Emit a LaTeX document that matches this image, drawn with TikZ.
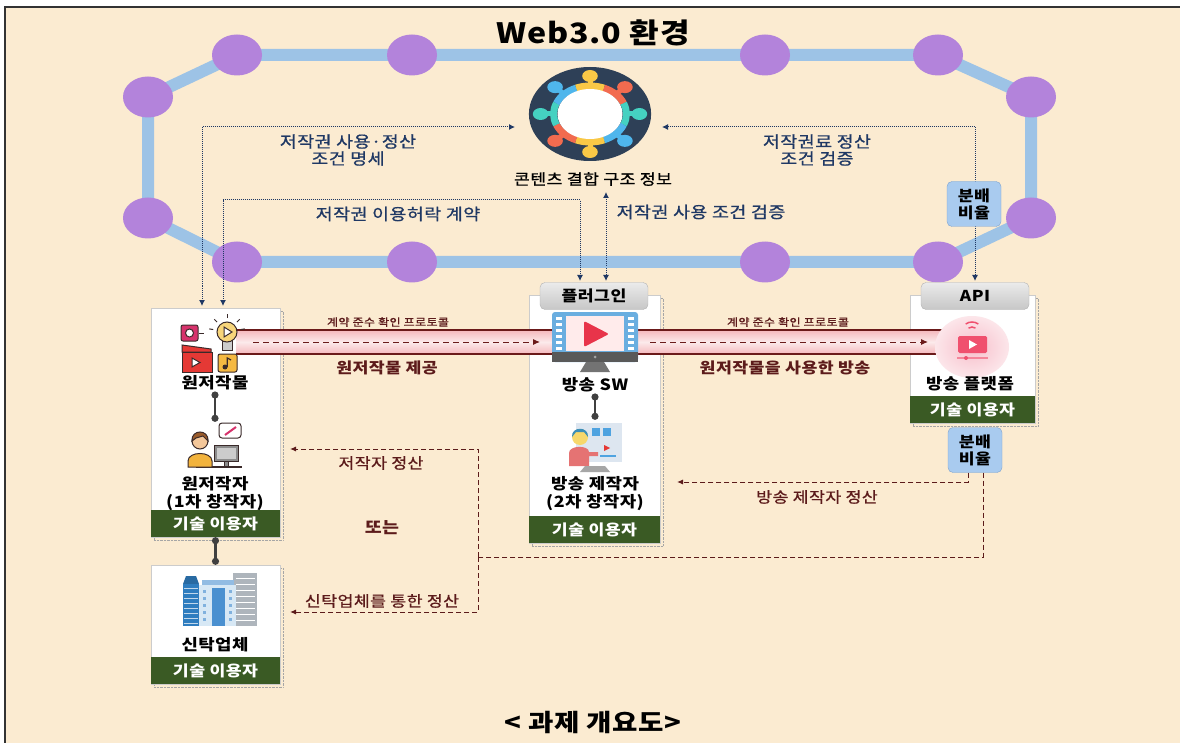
\documentclass[tikz,border=0pt]{standalone}
\usepackage{fontspec}
\setmainfont{Noto Sans CJK KR}[FakeStretch=1.15,LetterSpace=3]
\newfontfamily\labelfont{Noto Sans CJK KR}[FakeStretch=1.15,LetterSpace=3,FakeBold=0.8]
\usetikzlibrary{arrows.meta,shapes.geometric,shadows}

\definecolor{paper}{HTML}{FBEBD1}
\definecolor{ringblue}{HTML}{9DC3E6}
\definecolor{peerpurple}{HTML}{B383DB}
\definecolor{navy}{HTML}{1F3864}
\definecolor{payred}{HTML}{5C1B1B}
\definecolor{usergreen}{HTML}{3A5A24}
\definecolor{hubdark}{HTML}{2E4057}
\definecolor{hubyellow}{HTML}{F9C846}
\definecolor{hubred}{HTML}{F26B4F}
\definecolor{hubteal}{HTML}{45D1C1}
\definecolor{hubblue}{HTML}{4FB6EC}
\definecolor{ratioblue}{HTML}{A9CBEF}
\definecolor{ratioedge}{HTML}{7EA3CF}
\definecolor{bandpink}{HTML}{F5B8BC}
\definecolor{bandline}{HTML}{6B1A1A}
\definecolor{inkdark}{HTML}{3A2A2A}
\definecolor{recpink}{HTML}{D6336C}
\definecolor{bulbyellow}{HTML}{F7D57A}
\definecolor{clapred}{HTML}{E53935}
\definecolor{noteyellow}{HTML}{F5B942}
\definecolor{skin}{HTML}{F4C79A}
\definecolor{hairbrown}{HTML}{9A5B2A}
\definecolor{shirtyellow}{HTML}{F2B33D}
\definecolor{screenblue}{HTML}{6AAEE0}
\definecolor{playred}{HTML}{E8344A}
\definecolor{boardgray}{HTML}{DDE6F0}
\definecolor{cardblue}{HTML}{4FA3E0}
\definecolor{coral}{HTML}{E57373}
\definecolor{hairteal}{HTML}{3D8FB8}
\definecolor{pinkcore}{HTML}{F7BFCB}
\definecolor{pinkedge}{HTML}{FCE6EA}
\definecolor{tvred}{HTML}{F0506E}
\definecolor{towerblue}{HTML}{2F7DBF}
\definecolor{towergray}{HTML}{AEB5BC}
\definecolor{officelight}{HTML}{D7E8F5}
\definecolor{officeblue}{HTML}{4A90D0}

\begin{document}
\begin{tikzpicture}[x=1pt,y=-1pt]
        \tikzstyle{ring}=[draw=ringblue,line width=12pt,line join=round]
        \tikzstyle{peer}=[ellipse,fill=peerpurple,minimum width=50pt,minimum height=41pt,inner sep=0pt]
        \tikzstyle{card}=[draw=black!20,fill=white,inner sep=0pt,drop shadow={shadow xshift=3pt,shadow yshift=-3pt,opacity=1,fill=paper,draw=black!35,densely dotted}]
        \tikzstyle{userbar}=[fill=usergreen,text=white,inner sep=0pt,minimum height=27pt,font=\bfseries\fontsize{15}{18}\selectfont]
        \tikzstyle{tab}=[rounded corners=5pt,draw=black!30,top color=black!8,bottom color=black!22,minimum width=108pt,minimum height=27pt,font=\bfseries\fontsize{15}{18}\selectfont]
        \tikzstyle{ratio}=[rounded corners=5pt,draw=ratioedge,fill=ratioblue,minimum width=54pt,minimum height=45pt,inner sep=0pt,align=center,font=\bfseries\fontsize{15}{17}\selectfont]
        \tikzstyle{boxtitle}=[inner sep=1pt,align=center,font=\bfseries\fontsize{15.5}{18}\selectfont]
        \tikzstyle{icon}=[inner sep=0pt,minimum width=70pt,minimum height=52pt]
        \tikzstyle{ctrltext}=[text=navy,align=center,font=\labelfont\fontsize{16}{17}\selectfont]
        \tikzstyle{prototext}=[text=payred,font=\labelfont\fontsize{10.5}{12}\selectfont]
        \tikzstyle{bandtext}=[text=payred,font=\bfseries\fontsize{15}{18}\selectfont]
        \tikzstyle{paytext}=[text=payred,font=\labelfont\fontsize{15}{18}\selectfont]
        \tikzstyle{ctrl}=[navy,densely dotted,line width=1pt,arrows={Latex[length=6pt,width=6pt]-Latex[length=6pt,width=6pt]}]
        \tikzstyle{flow}=[bandline,dash pattern=on 6pt off 4pt,line width=1pt,-{Latex[length=7pt,width=6pt]}]
        \tikzstyle{pay}=[payred,dash pattern=on 5pt off 3pt,line width=1pt,-{Latex[length=6pt,width=5pt]}]
        \tikzstyle{link}=[black!75,line width=2.2pt,{Circle[length=7pt]}-{Circle[length=7pt]}]

        \useasboundingbox (0,0) rectangle (1180,743);
        \fill[white] (0,0) rectangle (1180,743);
        \draw[fill=paper,draw=black!80,line width=1.5pt] (5,7) rectangle (1190,753);

        % blockchain ring
        \foreach \n/\x/\y in {1/148/97,2/237/55,3/412/55,4/765/55,5/938/55,6/1031/97,7/1031/218,8/938/262,9/765/262,10/412/262,11/237/262,12/148/218}
            \coordinate (c\n) at (\x,\y);
        \draw[ring] (c1) -- (c2) -- (c3) -- (c4) -- (c5) -- (c6) -- (c7) -- (c8) -- (c9) -- (c10) -- (c11) -- (c12) -- cycle;
        \foreach \n in {1,...,12}
            \node[peer] (p\n) at (c\n) {};

        \node[font=\bfseries\fontsize{28}{32}\selectfont] (title) at (593,33) {Web3.0 환경};

        % content structure hub
        \node[ellipse,minimum width=124pt,minimum height=94pt,inner sep=0pt] (hub) at (590,114) {};
        \begin{scope}[shift={(hub.center)},xscale=1.3]
            \fill[hubdark] (0,0) circle (47pt);
            \foreach \a/\c in {90/hubyellow,45/hubred,0/hubteal,-45/hubblue,-90/hubyellow,-135/hubred,180/hubteal,135/hubblue}{
                \draw[\c,line width=7pt] ({\a-22.6}:28pt) arc[start angle={\a-22.6},end angle={\a+22.6},radius=28pt];
                \draw[\c,line width=5pt] (\a:29pt) -- (\a:36pt);
                \fill[\c] (\a:38pt) circle (6pt);
            }
            \fill[white] (0,0) circle (25pt);
        \end{scope}
        \node[font=\labelfont\fontsize{15}{18}\selectfont] (hub-label) at (593,179) {콘텐츠 결합 구조 정보};

        % control flows
        \coordinate (spec-end) at (202,306);
        \coordinate (spec-in) at (515,127);
        \coordinate (lic-end) at (223,306);
        \coordinate (lic-mid) at (400,200);
        \coordinate (plug-l) at (580,281);
        \coordinate (hub-s) at (606,192);
        \coordinate (plug-r) at (606,281);
        \coordinate (hub-e) at (662,127);
        \coordinate (api-top) at (975,281);
        \draw[ctrl] (spec-end) |- (spec-in);
        \draw[ctrl] (lic-end) |- (lic-mid) -| (plug-l);
        \draw[ctrl] (hub-s) -- (plug-r);
        \draw[ctrl] (hub-e) -| (api-top);
        \node[ratio] (ratio-up) at (974,204) {분배\\비율};

        \node[ctrltext] (spec-text) at (348,150) {저작권 사용·정산\\조건 명세};
        \node[ctrltext] (lic-text) at (398,214) {저작권 이용허락 계약};
        \node[ctrltext] (check-text) at (701,212) {저작권 사용 조건 검증};
        \node[ctrltext] (fee-text) at (817,150) {저작권료 정산\\조건 검증};

        % participant cards
        \node[card,minimum width=129pt,minimum height=229pt] (orig-card) at (215.5,422.5) {};
        \node[card,minimum width=129pt,minimum height=119pt] (trust-card) at (215.5,624.5) {};
        \node[card,minimum width=131pt,minimum height=248pt] (sw-card) at (594.5,419) {};
        \node[card,minimum width=125pt,minimum height=128pt] (platform-card) at (972.5,359) {};
        \node[userbar,minimum width=129pt,anchor=south] (orig-bar) at (orig-card.south) {기술 이용자};
        \node[userbar,minimum width=129pt,anchor=south] (trust-bar) at (trust-card.south) {기술 이용자};
        \node[userbar,minimum width=131pt,anchor=south] (sw-bar) at (sw-card.south) {기술 이용자};
        \node[userbar,minimum width=125pt,anchor=south] (platform-bar) at (platform-card.south) {기술 이용자};
        \node[tab] (plug-tab) at (594,296) {플러그인};
        \node[tab] (api-tab) at (975,296) {API};

        % protocol bands
        \fill[top color=bandpink,bottom color=bandpink,middle color=bandpink!30] (236,330) rectangle (562,354);
        \draw[bandline,line width=1.5pt] (236,330) -- (562,330) (236,354) -- (562,354);
        \fill[top color=bandpink,bottom color=bandpink,middle color=bandpink!30] (628,330) rectangle (945,354);
        \draw[bandline,line width=1.5pt] (628,330) -- (945,330) (628,354) -- (945,354);
        \coordinate (give-s) at (253,342);
        \coordinate (give-e) at (540,342);
        \coordinate (cast-s) at (650,342);
        \coordinate (cast-e) at (928,342);
        \draw[flow] (give-s) -- (give-e);
        \draw[flow] (cast-s) -- (cast-e);
        \node[prototext] (proto-a) at (388,322) {계약 준수 확인 프로토콜};
        \node[prototext] (proto-b) at (788,322) {계약 준수 확인 프로토콜};
        \node[bandtext] (give-text) at (387,368) {원저작물 제공};
        \node[bandtext] (cast-text) at (785,368) {원저작물을 사용한 방송};

        % original work icon
        \node[icon] (orig-icon) at (212,344) {};
        \draw[line width=1pt,draw=inkdark,fill=recpink,rounded corners=2pt] (181,325) rectangle (198,341);
        \draw[line width=1pt,draw=inkdark,fill=white] (189.5,333) circle (4pt);
        \draw[line width=1pt,inkdark] (199,333) -- (204,333);
        \foreach \a in {90,45,135,10,170}
            \draw[line width=1pt,inkdark] ([shift={(227,332)}]\a:14pt) -- ([shift={(227,332)}]\a:18pt);
        \draw[line width=1pt,draw=inkdark,fill=black!20] (222,340) rectangle (232,350);
        \draw[line width=1pt,draw=inkdark,fill=bulbyellow] (227,332) circle (10pt);
        \draw[line width=1pt,draw=inkdark,fill=white] (224,327) -- (224,337) -- (232,332) -- cycle;
        \draw[line width=1pt,draw=inkdark,fill=clapred] (182,345) -- (211,349) -- (211,352) -- (182,352) -- cycle;
        \draw[line width=1pt,draw=inkdark,fill=clapred] (182,352) rectangle (212,372);
        \draw[line width=1pt,draw=inkdark,fill=white] (192,358) -- (192,367) -- (200,362.5) -- cycle;
        \draw[line width=1pt,draw=inkdark,fill=noteyellow,rounded corners=2pt] (218,354) rectangle (237,372);
        \fill[inkdark] (225,367) circle (2.5pt);
        \draw[line width=1.2pt,inkdark] (227.3,367) -- (227.3,358) -- (231,360);
        \node[boxtitle] (orig-name) at (215,383) {원저작물};

        % original author icon
        \node[icon] (author-icon) at (215,448) {};
        \draw[line width=1pt,draw=inkdark,fill=black!45] (214,445) rectangle (238,461);
        \fill[black!20] (216.5,447.5) rectangle (235.5,458.5);
        \draw[line width=1pt,draw=inkdark,fill=black!45] (224,461) rectangle (228,466);
        \draw[line width=2pt,inkdark] (196,467) -- (242,467);
        \draw[line width=1pt,draw=inkdark,fill=shirtyellow] (188,467) -- (188,461) .. controls (188,451) and (212,451) .. (212,461) -- (212,467) -- cycle;
        \draw[line width=1pt,draw=inkdark,fill=skin] (200,441) circle (8pt);
        \draw[line width=1pt,draw=inkdark,fill=hairbrown] (192,441) .. controls (191,429) and (209,429) .. (208,441) -- (203,436) -- (196,438) -- cycle;
        \draw[line width=1pt,draw=inkdark,fill=white,rounded corners=3pt] (219,423) rectangle (241,438);
        \draw[line width=2pt,recpink] (225,435) -- (236,427);
        \node[boxtitle] (author-name) at (215,494) {원저작자\\(1차 창작자)};
        \draw[link] (orig-name) -- (author-icon);

        % trust company icon
        \node[icon] (trust-icon) at (220,601) {};
        \fill[towergray] (233,573) rectangle (257,626);
        \foreach \yy in {578,584,...,622}
            \draw[white,line width=0.6pt] (236,\yy) -- (255,\yy);
        \fill[towerblue!85!black] (186,576) -- (196,576) -- (199,584) -- (183,584) -- cycle;
        \fill[towerblue] (183,584) rectangle (199,626);
        \foreach \yy in {588,593,...,623}
            \draw[white!70!towerblue,line width=0.8pt] (184,\yy) -- (198,\yy);
        \fill[officeblue!60] (202,580) rectangle (234,585);
        \fill[officelight] (199,585) rectangle (236,626);
        \fill[officeblue] (212,588) rectangle (225,626);
        \foreach \yy in {590,597,...,620}{
            \fill[officeblue!70] (203,\yy) rectangle (206,\yy+3);
            \fill[officeblue!70] (229,\yy) rectangle (232,\yy+3);
        }
        \node[boxtitle] (trust-name) at (215,645) {신탁업체};
        \draw[link] (orig-card) -- (trust-card);

        % broadcast software icon
        \node[icon] (sw-icon) at (595,340) {};
        \fill[screenblue,rounded corners=3pt] (552,312) rectangle (638,362);
        \foreach \yy in {317,323,...,347}{
            \fill[white] (556,\yy) rectangle (562,\yy+3);
            \fill[white] (628,\yy) rectangle (634,\yy+3);
        }
        \fill[white!92!red] (566,316) rectangle (624,351);
        \fill[playred,rounded corners=2pt] (584,321) -- (584,347) -- (609,334) -- cycle;
        \fill[black!65] (552,352) rectangle (638,362);
        \fill[black!35] (595,357) circle (1.5pt);
        \fill[black!55] (586,362) -- (604,362) -- (610,372) -- (580,372) -- cycle;
        \node[boxtitle] (sw-name) at (595,385) {방송 SW};

        % broadcast producer icon
        \node[icon] (maker-icon) at (595,446) {};
        \fill[boardgray] (576,423) rectangle (622,462);
        \fill[cardblue] (592,428) rectangle (600,436);
        \fill[cardblue] (603,428) rectangle (611,436);
        \fill[clapred] (604,445) -- (604,451) -- (610,448) -- cycle;
        \draw[cardblue,line width=1.5pt] (600,456) -- (616,456);
        \fill[coral] (569,466) -- (569,453) .. controls (569,445) and (589,445) .. (589,452) -- (598,452) -- (598,456) -- (589,456) -- (589,466) -- cycle;
        \fill[skin!70!yellow] (580,437) circle (8pt);
        \fill[hairteal] (572,437) .. controls (571,426) and (589,426) .. (588,437) -- (584,432) -- (576,432) -- cycle;
        \fill[black!35] (585,466) -- (605,466) -- (610,472) -- (580,472) -- cycle;
        \node[boxtitle] (maker-name) at (595,494) {방송 제작자\\(2차 창작자)};
        \draw[link] (sw-name) -- (maker-icon);

        % broadcast platform icon
        \node[icon] (platform-icon) at (972,347) {};
        \shade[inner color=pinkcore,outer color=pinkedge] (972,347) ellipse (37pt and 31pt);
        \draw[tvred,line width=1.5pt] ([shift={(972,333)}]55:6pt) arc[start angle=55,end angle=125,radius=6pt];
        \draw[tvred,line width=1.5pt] ([shift={(972,333)}]55:11pt) arc[start angle=55,end angle=125,radius=11pt];
        \fill[tvred,rounded corners=1.5pt] (958,336) rectangle (987,353);
        \fill[white] (969,340) -- (969,349) -- (977,344.5) -- cycle;
        \draw[tvred!70,line width=1.2pt] (957,358) -- (988,358);
        \fill[tvred] (966,358) circle (2pt);
        \node[boxtitle] (platform-name) at (970,384) {방송 플랫폼};

        % settlement flows
        \node[ratio] (ratio-low) at (975,450) {분배\\비율};
        \coordinate (maker-pay) at (677,482);
        \coordinate (split) at (478,557);
        \coordinate (author-pay) at (290,449);
        \coordinate (trust-pay) at (290,612);
        \draw[pay] ([xshift=-7pt]ratio-low.south) |- (maker-pay);
        \draw[pay,-] ([xshift=8pt]ratio-low.south) |- (split);
        \draw[pay] (split) |- (author-pay);
        \draw[pay] (split) |- (trust-pay);
        \node[paytext] (maker-text) at (817,497) {방송 제작자 정산};
        \node[paytext] (author-text) at (381,463) {저작자 정산};
        \node[paytext,font=\bfseries\fontsize{16}{18}\selectfont] (or-text) at (382,528) {또는};
        \node[paytext] (trust-text) at (382,601) {신탁업체를 통한 정산};

        \node[font=\bfseries\fontsize{24}{28}\selectfont] (caption) at (593,722) {< 과제 개요도>};
\end{tikzpicture}
\end{document}
